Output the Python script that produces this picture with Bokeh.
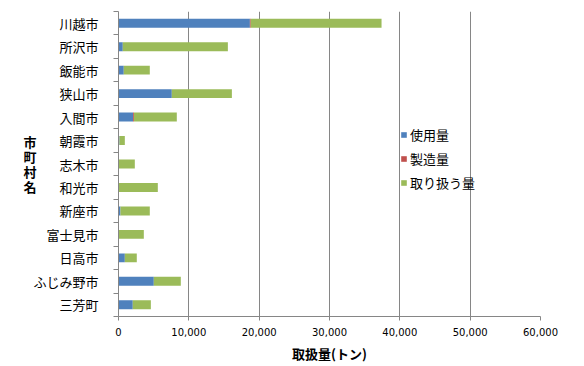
from bokeh.plotting import figure
from bokeh.models import ColumnDataSource, Range1d, FixedTicker, NumeralTickFormatter, Legend
from bokeh.embed import file_html
from bokeh.resources import INLINE

cities = ["川越市", "所沢市", "飯能市", "狭山市", "入間市", "朝霞市", "志木市",
          "和光市", "新座市", "富士見市", "日高市", "ふじみ野市", "三芳町"]
use_amt = [18680, 610, 750, 7580, 2080, 140, 0, 0, 280, 0, 900, 5020, 2030]
make_amt = [120, 0, 0, 0, 120, 0, 0, 0, 0, 0, 0, 0, 0]
handle_amt = [18600, 14940, 3700, 8540, 6090, 760, 2320, 5590, 4170, 3600, 1700, 3840, 2570]
series = ["使用量", "製造量", "取り扱う量"]
colors = ["#4F81BD", "#C0504D", "#9BBB59"]
x_ticks = [0, 10000, 20000, 30000, 40000, 50000, 60000]

pos = list(range(len(cities)))
source = ColumnDataSource(dict(y=pos, s0=use_amt, s1=make_amt, s2=handle_amt))

p = figure(width=584, height=366, output_backend="svg", toolbar_location=None,
           x_range=Range1d(0, 60000), y_range=Range1d(len(cities) - 0.5, -0.5),
           min_border_left=118, min_border_right=44, min_border_top=11, min_border_bottom=50)
p.outline_line_color = None
p.background_fill_color = "white"

renderers = p.hbar_stack(["s0", "s1", "s2"], y="y", height=0.38, source=source,
                         color=colors, line_color=None)

legend = Legend(items=[(series[i], [renderers[i]]) for i in range(3)],
                location=(282, 124))
legend.padding = 0
legend.margin = 0
legend.spacing = 4
legend.glyph_width = 7
legend.glyph_height = 7
legend.label_height = 20
legend.label_standoff = 3
legend.label_text_font = "Noto Sans CJK JP"
legend.label_text_font_size = "13px"
legend.label_text_color = "black"
legend.background_fill_alpha = 0
legend.border_line_color = None
p.add_layout(legend, "center")

# x axis
xa = p.xaxis[0]
xa.ticker = FixedTicker(ticks=x_ticks)
xa.formatter = NumeralTickFormatter(format="0,0")
xa.axis_line_color = "#868686"
xa.major_tick_line_color = "#868686"
xa.major_tick_out = 4
xa.major_tick_in = 0
xa.minor_tick_line_color = None
xa.major_label_text_font = "DejaVu Sans"
xa.major_label_text_font_size = "10px"
xa.major_label_text_color = "black"
xa.major_label_standoff = 7
xa.axis_label = "取扱量(トン)"
xa.axis_label_text_font = "Noto Sans CJK JP"
xa.axis_label_text_font_style = "bold"
xa.axis_label_text_font_size = "13px"
xa.axis_label_text_color = "black"
xa.axis_label_standoff = 5

p.xgrid.ticker = FixedTicker(ticks=x_ticks)
p.xgrid.grid_line_color = "#868686"
p.ygrid.grid_line_color = None

# y axis
ya = p.yaxis[0]
ya.ticker = FixedTicker(ticks=pos, minor_ticks=[i - 0.5 for i in range(len(cities) + 1)])
ya.major_label_overrides = {i: c for i, c in enumerate(cities)}
ya.axis_line_color = "#868686"
ya.major_tick_line_color = None
ya.major_tick_out = 0
ya.major_tick_in = 0
ya.minor_tick_line_color = "#868686"
ya.minor_tick_out = 5
ya.minor_tick_in = 0
ya.major_label_text_font = "Noto Sans CJK JP"
ya.major_label_text_font_size = "13px"
ya.major_label_text_color = "black"
ya.major_label_standoff = 15
ya.axis_label = "市\n町\n村\n名"
ya.axis_label_orientation = "horizontal"
ya.axis_label_text_font = "Noto Sans CJK JP"
ya.axis_label_text_font_style = "bold"
ya.axis_label_text_font_size = "13px"
ya.axis_label_text_color = "black"
ya.axis_label_text_line_height = 0.8
ya.axis_label_standoff = -6

open("out.html", "w").write(file_html(p, INLINE))
